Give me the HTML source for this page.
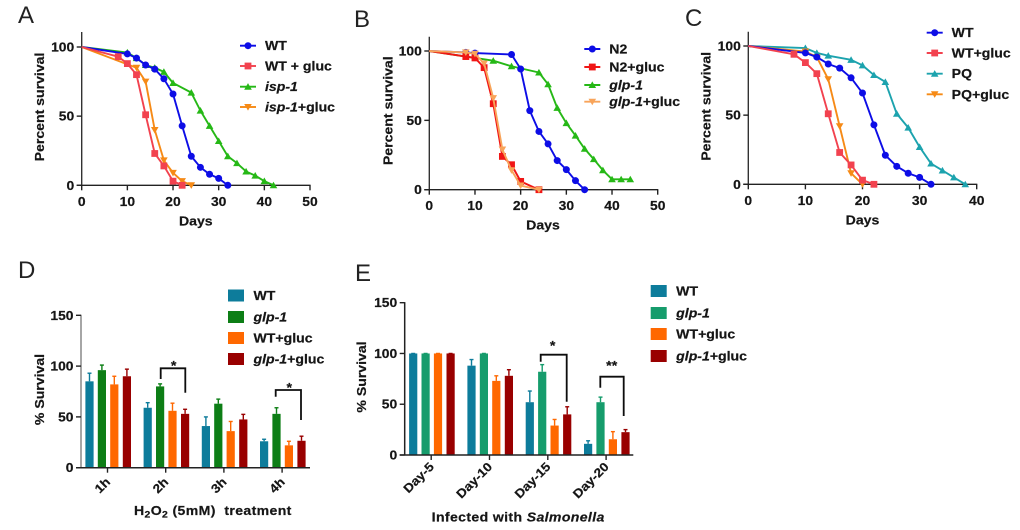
<!DOCTYPE html>
<html lang="en">
<head>
<meta charset="utf-8">
<title>Survival charts</title>
<style>
html,body{margin:0;padding:0;background:#fff;width:1020px;height:530px;overflow:hidden}
svg{display:block}
text{font-family:"Liberation Sans",sans-serif;font-weight:bold;fill:#141414;stroke:#141414;stroke-width:.2px}
.letter{font-weight:normal;font-size:24px;fill:#222;stroke:none}
.tick{font-size:12.6px}
.title{font-size:12.8px}
.wide{font-size:12.8px;letter-spacing:.33px}
.legend{font-size:12.8px}
.cat{font-size:12.4px}
</style>
</head>
<body>
<svg id="figure" width="1020" height="530" viewBox="0 0 1020 530" xmlns="http://www.w3.org/2000/svg">
<defs><filter id="soft" x="-2%" y="-2%" width="104%" height="104%"><feGaussianBlur stdDeviation="0.35"/></filter></defs>
<rect width="1020" height="530" fill="#fff"/>
<g id="root" filter="url(#soft)">
<text class="letter" x="18" y="23">A</text>
<text class="letter" x="354" y="27">B</text>
<text class="letter" x="685" y="26">C</text>
<text class="letter" x="18" y="278">D</text>
<text class="letter" x="355" y="281">E</text>
</g>
</svg>
<script>
/* ---------- tick labels ---------- */
const survivalTicks = [0, 50, 100];
const daysTicks50 = [0, 10, 20, 30, 40, 50];
const daysTicks40 = [0, 10, 20, 30, 40];
const barTicks = [0, 50, 100, 150];

/* ---------- panel A ---------- */
const aWtDays = [0, 10, 12, 14, 16, 18, 20, 22, 24, 26, 28, 30, 32];
const aWtSurvival = [100, 95, 92, 87, 84, 77, 66, 43, 21, 13, 8, 5, 0];
const aGlucDays = [0, 8, 10, 12, 14, 16, 18, 20, 22];
const aGlucSurvival = [100, 93, 88, 80, 51, 23, 14, 3, 0];
const aIspDays = [0, 10, 12, 14, 16, 18, 20, 24, 26, 28, 30, 32, 34, 36, 38, 40, 42];
const aIspSurvival = [100, 96, 92, 87, 85, 82, 74, 67, 54, 43, 32, 21, 16, 10, 7, 3, 0];
const aIspGlucDays = [0, 12, 14, 16, 18, 20, 22, 24];
const aIspGlucSurvival = [100, 85, 75, 40, 18, 9, 3, 0];

/* ---------- panel B ---------- */
const bN2Days = [0, 8, 10, 18, 20, 22, 24, 26, 28, 30, 32, 34];
const bN2Survival = [100, 99, 98.5, 97.5, 87, 57, 42, 33, 21, 14.5, 6.5, 0];
const bGlucDays = [0, 8, 10, 12, 14, 16, 18, 20, 24];
const bGlucSurvival = [100, 96, 95, 88, 62, 24, 18, 6, 0];
const bGlpDays = [0, 14, 18, 24, 26, 28, 30, 32, 34, 36, 38, 40, 42, 44];
const bGlpSurvival = [100, 93, 89, 84.5, 76, 59, 48, 39, 29.5, 22, 14, 7.5, 7.5, 7.5];
const bGlpGlucDays = [0, 8, 10, 12, 14, 16, 18, 20, 24];
const bGlpGlucSurvival = [100, 99, 98, 91, 66, 29, 14, 3, 0];

/* ---------- panel C ---------- */
const cWtDays = [0, 10, 12, 14, 16, 18, 20, 22, 24, 26, 28, 30, 32];
const cWtSurvival = [100, 95, 92, 87, 84, 77, 66, 43, 21, 13, 8, 5, 0];
const cGlucDays = [0, 8, 10, 12, 14, 16, 18, 20, 22];
const cGlucSurvival = [100, 94, 88, 80, 51, 23, 14, 3, 0];
const cPqDays = [0, 10, 12, 14, 18, 20, 22, 24, 26, 28, 30, 32, 34, 36, 38];
const cPqSurvival = [100, 98.5, 95, 93, 90, 86, 79, 74, 51, 41, 27, 15, 10, 5, 0];
const cPqGlucDays = [0, 10, 12, 14, 16, 18, 20];
const cPqGlucSurvival = [100, 96, 92, 76, 42, 8, 0];

/* ---------- panel D ---------- */
const dCategories = ['1h', '2h', '3h', '4h'];
const dWt = [85, 59, 41, 26];
const dWtTop = [93, 64, 50, 28];
const dGlp = [96, 80, 63, 53];
const dGlpTop = [101, 82.5, 67.5, 59];
const dWtGluc = [82, 56, 36, 22];
const dWtGlucTop = [90, 63.5, 45.5, 26];
const dGlpGluc = [90, 53, 47.5, 26.5];
const dGlpGlucTop = [97, 57.5, 52.5, 31];

/* ---------- panel E ---------- */
const eCategories = ['Day-5', 'Day-10', 'Day-15', 'Day-20'];
const eWt = [100, 88, 52, 11];
const eWtTop = [100, 94, 63, 14];
const eGlp = [100, 100, 82, 52];
const eGlpTop = [100, 100, 89, 57];
const eWtGluc = [100, 73, 29, 15.5];
const eWtGlucTop = [100, 78, 35, 23];
const eGlpGluc = [100, 78, 40, 22.5];
const eGlpGlucTop = [100, 84, 47.5, 25];

const NS = 'http://www.w3.org/2000/svg';
const root = document.getElementById('root');

function make(tag, parent, name, attrs, content) {
  const el = document.createElementNS(NS, tag);
  
  
  for (const k in attrs) el.setAttribute(k, attrs[k]);
  if (content !== undefined) el.textContent = content;
  parent.appendChild(el);
  return el;
}
function scale(d0, d1, r0, r1) {
  return v => r0 + (v - d0) * (r1 - r0) / (d1 - d0);
}
function line(parent, name, x1, y1, x2, y2, color, w) {
  return make('line', parent, name, { x1, y1, x2, y2, stroke: color, 'stroke-width': w });
}
function marker(parent, name, kind, x, y, color) {
  if (kind === 'circle') return make('circle', parent, name, { cx: x, cy: y, r: 3.5, fill: color });
  if (kind === 'square') return make('rect', parent, name, { x: x - 3.4, y: y - 3.4, width: 6.8, height: 6.8, fill: color });
  const d = kind === 'up' ? 1 : -1;
  const pts = [[x - 3.8, y + 3 * d], [x + 3.8, y + 3 * d], [x, y - 3.6 * d]];
  return make('polygon', parent, name, { points: pts.map(p => p.join(',')).join(' '), fill: color });
}
function lineAxes(g, box, xTicks, xLabel) {
  const { x0, x1, y0, y100, top, xMax } = box;
  const X = scale(0, xMax, x0, x1);
  const Y = scale(0, 100, y0, y100);
  line(g, 'y-axis', x0, top, x0, y0 + .7, '#333', 1.4);
  line(g, 'x-axis', x0 - 5, y0, x1 + .6, y0, '#222', 1.4);
  survivalTicks.forEach(t => {
    line(g, 'y-tick', x0 - 5, Y(t), x0, Y(t), '#222', 1.4);
    make('text', g, 'y-tick-label', { class: 'tick', x: x0 - 7.5, y: Y(t) + 4.5, 'text-anchor': 'end' }, t);
  });
  xTicks.forEach(t => {
    line(g, 'x-tick', X(t), y0, X(t), y0 + 5, '#222', 1.4);
    make('text', g, 'x-tick-label', { class: 'tick', x: X(t), y: y0 + 20.5, 'text-anchor': 'middle' }, t);
  });
  make('text', g, 'x-axis-title', { class: 'title', x: xLabel, y: y0 + 40, 'text-anchor': 'middle' }, 'Days');
  make('text', g, 'y-axis-title', {
    class: 'title', 'text-anchor': 'middle', x: box.yTitleX, y: box.yTitleY,
    transform: `rotate(-90 ${box.yTitleX} ${box.yTitleY})`
  }, 'Percent survival');
  return { X, Y };
}
function series(g, axes, name, days, values, kind, color) {
  const s = make('g', g, 'series-' + name, {});
  make('polyline', s, name + '-line', {
    points: days.map((d, i) => axes.X(d) + ',' + axes.Y(values[i])).join(' '),
    fill: 'none', stroke: color, 'stroke-width': 1.9, 'stroke-linejoin': 'round'
  });
  days.forEach((d, i) => {
    if (d === 0) return;
    marker(s, name + '-point', kind, axes.X(d), axes.Y(values[i]), color);
  });
}
function lineLegendEntry(g, x, y, label, italicPart, kind, color, name) {
  const e = make('g', g, 'legend-entry-' + name, {});
  line(e, 'legend-line', x, y, x + 16, y, color, 1.9);
  marker(e, 'legend-marker', kind, x + 8, y, color);
  const t = make('text', e, 'legend-label', { class: 'legend', x: x + 25, y: y + 4.5 });
  if (italicPart) make('tspan', t, 'legend-label-italic', { 'font-style': 'italic' }, italicPart);
  if (label) make('tspan', t, 'legend-label-plain', {}, label);
}
function barLegendEntry(g, x, y, label, italicPart, color, name) {
  const e = make('g', g, 'legend-entry-' + name, {});
  make('rect', e, 'legend-swatch', { x, y, width: 16, height: 12, fill: color });
  const t = make('text', e, 'legend-label', { class: 'legend', x: x + 25.5, y: y + 10.5 });
  if (italicPart) make('tspan', t, 'legend-label-italic', { 'font-style': 'italic' }, italicPart);
  if (label) make('tspan', t, 'legend-label-plain', {}, label);
}
function barChart(g, box, cats, groups) {
  const { x0, x1, y0, y150, first, step, yColor, labelDrop } = box;
  const Y = scale(0, 150, y0, y150);
  const offsets = [-18.6, -6.2, 6.2, 18.8];
  cats.forEach((c, i) => {
    const cx = first + step * i;
    groups.forEach((gr, j) => {
      const bx = cx + offsets[j] + .6;
      line(g, 'error-bar-' + gr.name, bx, Y(gr.values[i]), bx, Y(gr.tops[i]), gr.color, 1.4);
      line(g, 'error-cap-' + gr.name, bx - 2, Y(gr.tops[i]), bx + 2, Y(gr.tops[i]), gr.color, 1.4);
      make('rect', g, 'bar-' + gr.name + '-' + c, {
        x: bx - 4.1, y: Y(gr.values[i]), width: 8.2, height: y0 - Y(gr.values[i]), fill: gr.color
      });
    });
    line(g, 'x-tick', cx, y0, cx, y0 + 5, '#222', 1.4);
    const lx = cx + 3.5, ly = y0 + labelDrop;
    make('text', g, 'x-tick-label', {
      class: 'cat', x: lx, y: ly, 'text-anchor': 'end', transform: `rotate(-45 ${lx} ${ly})`
    }, c);
  });
  line(g, 'y-axis', x0, y150 - .6, x0, y0, yColor, 1.5);
  line(g, 'x-axis', x0 - 5, y0, x1, y0, '#222', 1.5);
  barTicks.forEach(t => {
    line(g, 'y-tick', x0 - 5, Y(t), x0, Y(t), '#222', 1.4);
    make('text', g, 'y-tick-label', { class: 'tick', x: x0 - 7.5, y: Y(t) + 4.5, 'text-anchor': 'end' }, t);
  });
  return Y;
}
function bracket(g, name, xL, xR, yTop, yL, yR, stars, sx, sy) {
  const b = make('g', g, name, {});
  make('polyline', b, 'significance-bracket', {
    points: `${xL},${yL} ${xL},${yTop} ${xR},${yTop} ${xR},${yR}`,
    fill: 'none', stroke: '#111', 'stroke-width': 1.8
  });
  make('text', b, 'significance-stars', { x: sx, y: sy, 'text-anchor': 'middle', 'font-size': 13 }, stars);
}

/* ---------- build panels ---------- */
const blue = '#0b0be6', coral = '#f2434f', red = '#f01212', green = '#25b815',
      orange = '#f68a17', paleOrange = '#f8a45a', teal = '#1fa3ae';

const pa = make('g', root, 'panel-a-survival-chart', {});
const axA = lineAxes(pa, { x0: 81.7, x1: 310, y0: 185.3, y100: 47, top: 32, xMax: 50, yTitleX: 44, yTitleY: 107 }, daysTicks50, 195.8);
series(pa, axA, 'isp-1', aIspDays, aIspSurvival, 'up', green);
series(pa, axA, 'wt', aWtDays, aWtSurvival, 'circle', blue);
series(pa, axA, 'isp-1-gluc', aIspGlucDays, aIspGlucSurvival, 'down', orange);
series(pa, axA, 'wt-gluc', aGlucDays, aGlucSurvival, 'square', coral);
lineLegendEntry(pa, 240, 45.7, 'WT', '', 'circle', blue, 'wt');
lineLegendEntry(pa, 240, 66, 'WT + gluc', '', 'square', coral, 'wt-gluc');
lineLegendEntry(pa, 240, 86.7, '', 'isp-1', 'up', green, 'isp-1');
lineLegendEntry(pa, 240, 107, '+gluc', 'isp-1', 'down', orange, 'isp-1-gluc');

const pb = make('g', root, 'panel-b-survival-chart', {});
const axB = lineAxes(pb, { x0: 429.3, x1: 657.7, y0: 189.7, y100: 51, top: 36.7, xMax: 50, yTitleX: 392.3, yTitleY: 110.7 }, daysTicks50, 543);
series(pb, axB, 'glp-1', bGlpDays, bGlpSurvival, 'up', green);
series(pb, axB, 'n2', bN2Days, bN2Survival, 'circle', blue);
series(pb, axB, 'n2-gluc', bGlucDays, bGlucSurvival, 'square', red);
series(pb, axB, 'glp-1-gluc', bGlpGlucDays, bGlpGlucSurvival, 'down', paleOrange);
lineLegendEntry(pb, 584.3, 49, 'N2', '', 'circle', blue, 'n2');
lineLegendEntry(pb, 584.3, 67, 'N2+gluc', '', 'square', red, 'n2-gluc');
lineLegendEntry(pb, 584.3, 85, '', 'glp-1', 'up', green, 'glp-1');
lineLegendEntry(pb, 584.3, 101.7, '+gluc', 'glp-1', 'down', paleOrange, 'glp-1-gluc');

const pc = make('g', root, 'panel-c-survival-chart', {});
const axC = lineAxes(pc, { x0: 748.3, x1: 976.7, y0: 184.3, y100: 46, top: 31.7, xMax: 40, yTitleX: 710.7, yTitleY: 106.3 }, daysTicks40, 862.5);
series(pc, axC, 'pq', cPqDays, cPqSurvival, 'up', teal);
series(pc, axC, 'pq-gluc', cPqGlucDays, cPqGlucSurvival, 'down', orange);
series(pc, axC, 'wt', cWtDays, cWtSurvival, 'circle', blue);
series(pc, axC, 'wt-gluc', cGlucDays, cGlucSurvival, 'square', coral);
lineLegendEntry(pc, 926.7, 32.7, 'WT', '', 'circle', blue, 'wt');
lineLegendEntry(pc, 926.7, 53, 'WT+gluc', '', 'square', coral, 'wt-gluc');
lineLegendEntry(pc, 926.7, 73.7, 'PQ', '', 'up', teal, 'pq');
lineLegendEntry(pc, 926.7, 94.3, 'PQ+gluc', '', 'down', orange, 'pq-gluc');

const pd = make('g', root, 'panel-d-bar-chart', {});
const barBlue = '#0f7b9b', barGreen = '#0a7e14', barOrange = '#ff6700', barRed = '#990303', barSea = '#149c6c';
barChart(pd, { x0: 81, x1: 310, y0: 467.7, y150: 315.3, first: 107.5, step: 58.2, yColor: '#888', labelDrop: 15 }, dCategories, [
  { name: 'wt', values: dWt, tops: dWtTop, color: barBlue },
  { name: 'glp-1', values: dGlp, tops: dGlpTop, color: barGreen },
  { name: 'wt-gluc', values: dWtGluc, tops: dWtGlucTop, color: barOrange },
  { name: 'glp-1-gluc', values: dGlpGluc, tops: dGlpGlucTop, color: barRed }
]);
bracket(pd, 'significance-2h', 160.7, 185.3, 368.3, 379, 392.7, '*', 173.7, 370);
bracket(pd, 'significance-4h', 275.7, 301, 390, 396.7, 420, '*', 289.3, 392);
make('text', pd, 'y-axis-title', { class: 'title', 'text-anchor': 'middle', x: 44, y: 389.5, transform: 'rotate(-90 44 389.5)' }, '% Survival');
const dTitle = make('text', pd, 'x-axis-title', { class: 'wide', x: 134, y: 515 });
make('tspan', dTitle, 'title-h', {}, 'H');
make('tspan', dTitle, 'title-sub-2', { 'font-size': 9.5, dy: 2.5 }, '2');
make('tspan', dTitle, 'title-o', { dy: -2.5 }, 'O');
make('tspan', dTitle, 'title-sub-2', { 'font-size': 9.5, dy: 2.5 }, '2');
make('tspan', dTitle, 'title-rest', { dy: -2.5 }, ' (5mM)\u00A0 treatment');
barLegendEntry(pd, 228, 289.5, 'WT', '', barBlue, 'wt');
barLegendEntry(pd, 228, 311, '', 'glp-1', barGreen, 'glp-1');
barLegendEntry(pd, 228, 332, 'WT+gluc', '', barOrange, 'wt-gluc');
barLegendEntry(pd, 228, 353, '+gluc', 'glp-1', barRed, 'glp-1-gluc');

const pe = make('g', root, 'panel-e-bar-chart', {});
barChart(pe, { x0: 404.7, x1: 633.3, y0: 455, y150: 302.7, first: 431.2, step: 58.3, yColor: '#222', labelDrop: 12.5 }, eCategories, [
  { name: 'wt', values: eWt, tops: eWtTop, color: barBlue },
  { name: 'glp-1', values: eGlp, tops: eGlpTop, color: barSea },
  { name: 'wt-gluc', values: eWtGluc, tops: eWtGlucTop, color: barOrange },
  { name: 'glp-1-gluc', values: eGlpGluc, tops: eGlpGlucTop, color: barRed }
]);
bracket(pe, 'significance-day-15', 540.7, 566.7, 354.7, 361.7, 401.7, '*', 552.7, 350);
bracket(pe, 'significance-day-20', 600.3, 623.7, 376.7, 387.7, 416, '**', 611.7, 370);
make('text', pe, 'y-axis-title', { class: 'title', 'text-anchor': 'middle', x: 366, y: 377, transform: 'rotate(-90 366 377)' }, '% Survival');
const eTitle = make('text', pe, 'x-axis-title', { class: 'wide', x: 431.7, y: 521.7 });
make('tspan', eTitle, 'title-plain', {}, 'Infected with ');
make('tspan', eTitle, 'title-italic', { 'font-style': 'italic' }, 'Salmonella');
barLegendEntry(pe, 650.7, 285, 'WT', '', barBlue, 'wt');
barLegendEntry(pe, 650.7, 307, '', 'glp-1', barSea, 'glp-1');
barLegendEntry(pe, 650.7, 328, 'WT+gluc', '', barOrange, 'wt-gluc');
barLegendEntry(pe, 650.7, 350, '+gluc', 'glp-1', barRed, 'glp-1-gluc');

/* The source figure's lettering is slightly stretched horizontally */
document.querySelectorAll('#root text:not(.letter)').forEach(t => {
  const len = t.getComputedTextLength();
  t.setAttribute('textLength', (len * 1.1).toFixed(2));
  t.setAttribute('lengthAdjust', 'spacingAndGlyphs');
});
</script>
</body>
</html>
